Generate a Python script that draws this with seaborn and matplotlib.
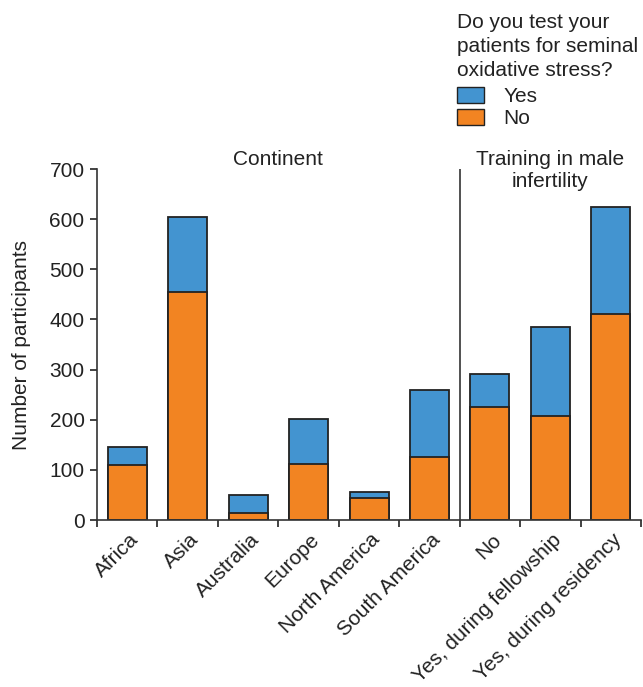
import matplotlib.pyplot as plt
from matplotlib.patches import Patch
from matplotlib.transforms import ScaledTranslation
import pandas as pd
import seaborn as sns

# Données
categories = ['Africa', 'Asia', 'Australia', 'Europe', 'North America',
              'South America', 'No', 'Yes, during fellowship',
              'Yes, during residency']
no_values = [109, 454, 15, 112, 44, 126, 225, 207, 411]
yes_values = [36, 150, 35, 90, 12, 133, 67, 178, 213]
group_titles = ['Continent', 'Training in male\ninfertility']

blue = '#4394D0'
orange = '#F28422'
edge = '#222222'
fs = 15

sns.set_style('ticks')
plt.rcParams['font.family'] = ['Liberation Sans', 'DejaVu Sans']
plt.rcParams['font.size'] = fs
plt.rcParams['text.color'] = '#222222'
plt.rcParams['axes.labelcolor'] = '#222222'
plt.rcParams['xtick.color'] = '#222222'
plt.rcParams['ytick.color'] = '#222222'

df = pd.DataFrame({
    'cat': categories,
    'no': no_values,
    'total': [n + y for n, y in zip(no_values, yes_values)],
})

fig = plt.figure(figsize=(6.43, 6.87), dpi=100)
ax = fig.add_axes([0.1509, 0.243, 0.846, 0.511])

# Barres empilées: total (bleu) puis No (orange) par-dessus
sns.barplot(data=df, x='cat', y='total', order=categories, color=blue,
            saturation=1, width=0.645, edgecolor=edge, linewidth=1.3, ax=ax)
sns.barplot(data=df, x='cat', y='no', order=categories, color=orange,
            saturation=1, width=0.645, edgecolor=edge, linewidth=1.3, ax=ax)

ax.set_xlim(-0.5, len(categories) - 0.5)
ax.set_ylim(0, 700)
ax.set_yticks(range(0, 701, 100))
ax.set_xlabel('')
ax.set_ylabel('Number of participants', fontsize=fs, labelpad=13)

ax.set_xticks(range(len(categories)))
ax.set_xticklabels(categories, rotation=45, ha='right', va='center',
                   rotation_mode='anchor')
ax.tick_params(axis='x', which='major', length=0, pad=12)
shift = ScaledTranslation(0.08, 0, fig.dpi_scale_trans)
for lab in ax.get_xticklabels():
    lab.set_transform(lab.get_transform() + shift)
ax.set_xticks([i - 0.5 for i in range(len(categories) + 1)], minor=True)
ax.tick_params(axis='x', which='minor', length=5, width=1.2)
ax.tick_params(axis='y', length=5, width=1.2, labelsize=fs, pad=4)
ax.tick_params(axis='x', labelsize=fs)

for side in ['top', 'right']:
    ax.spines[side].set_visible(False)
for side in ['left', 'bottom']:
    ax.spines[side].set_linewidth(1.2)
    ax.spines[side].set_color('#333333')

# Séparateur entre les deux groupes
ax.axvline(5.5, ymin=0, ymax=1, color='#333333', lw=1.2)
ax.text(2.5, 738, group_titles[0], ha='center', va='top', fontsize=fs)
ax.text(7.0, 738, group_titles[1], ha='center', va='top', fontsize=fs,
        linespacing=1.2)
for t in ax.texts:
    t.set_clip_on(False)

handles = [Patch(facecolor=blue, edgecolor=edge, label='Yes'),
           Patch(facecolor=orange, edgecolor=edge, label='No')]
leg = fig.legend(handles=handles,
                 title='Do you test your\npatients for seminal\noxidative stress?',
                 loc='upper left', bbox_to_anchor=(0.70, 0.991),
                 frameon=False, fontsize=fs, title_fontsize=fs,
                 handlelength=1.3, handleheight=0.77, handletextpad=0.9,
                 labelspacing=0.15, borderaxespad=0.15, borderpad=0.2)
leg._legend_box.align = 'left'
leg._legend_box.sep = 5
leg.get_title().set_linespacing(1.32)

fig.savefig('out.png', dpi=100)
